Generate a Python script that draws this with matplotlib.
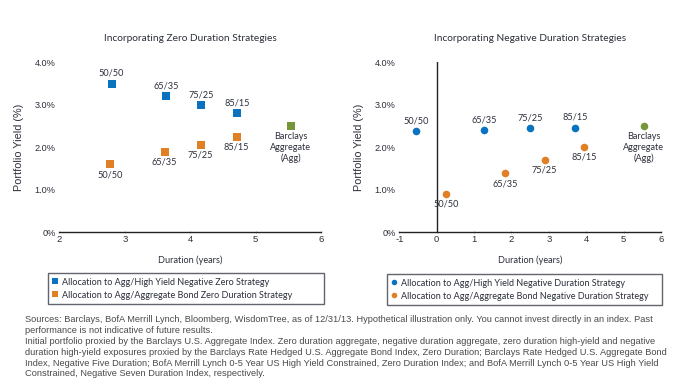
import matplotlib
matplotlib.use("Agg")
import matplotlib.pyplot as plt
from matplotlib.lines import Line2D

# ---- data ----
labels = ["50/50", "65/35", "75/25", "85/15"]
zero_hy_dur = [2.80, 3.63, 4.17, 4.72]
zero_hy_yld = [3.50, 3.21, 3.00, 2.81]
zero_agg_dur = [2.77, 3.61, 4.16, 4.71]
zero_agg_yld = [1.60, 1.89, 2.05, 2.24]
neg_hy_dur = [-0.54, 1.27, 2.49, 3.71]
neg_hy_yld = [2.37, 2.41, 2.44, 2.46]
neg_agg_dur = [0.25, 1.83, 2.89, 3.95]
neg_agg_yld = [0.90, 1.38, 1.70, 2.01]
agg_dur = 5.54
agg_yld = 2.50
agg_label = "Barclays\nAggregate\n(Agg)"
yticks = [0, 1, 2, 3, 4]
ytick_labels = ["0%", "1.0%", "2.0%", "3.0%", "4.0%"]
titles = ["Incorporating Zero Duration Strategies", "Incorporating Negative Duration Strategies"]
legend_left = ["Allocation to Agg/High Yield Negative Zero Strategy",
               "Allocation to Agg/Aggregate Bond Zero Duration Strategy"]
legend_right = ["Allocation to Agg/High Yield Negative Duration Strategy",
                "Allocation to Agg/Aggregate Bond Negative Duration Strategy"]
source_lines = [
    "Sources: Barclays, BofA Merrill Lynch, Bloomberg, WisdomTree, as of 12/31/13. Hypothetical illustration only. You cannot invest directly in an index. Past",
    "performance is not indicative of future results.",
    "Initial portfolio proxied by the Barclays U.S. Aggregate Index. Zero duration aggregate, negative duration aggregate, zero duration high-yield and negative",
    "duration high-yield exposures proxied by the Barclays Rate Hedged U.S. Aggregate Bond Index, Zero Duration; Barclays Rate Hedged U.S. Aggregate Bond",
    "Index, Negative Five Duration; BofA Merrill Lynch 0-5 Year US High Yield Constrained, Zero Duration Index; and BofA Merrill Lynch 0-5 Year US High Yield",
    "Constrained, Negative Seven Duration Index, respectively.",
]

BLUE = "#0A72BF"
ORANGE = "#E07F24"
GREEN = "#76963A"
TXT = "#2B2F3A"
TFONT = "Lato"
AFONT = "Liberation Sans"

W, H = 679, 388
fig = plt.figure(figsize=(W / 100, H / 100), dpi=100)

def fx(px):
    return px / W

def fy(py):
    return 1 - py / H

ax1 = fig.add_axes([fx(59.3), fy(232), fx(321 - 59.3), (232 - 62.3) / H])
ax2 = fig.add_axes([fx(399.3), fy(232), fx(661 - 399.3), (232 - 62.3) / H])

def style(ax, xlim, xticks, title):
    ax.set_xlim(*xlim)
    ax.set_ylim(0, 4)
    ax.set_xticks(xticks)
    ax.set_xticklabels([str(t) for t in xticks], fontsize=6.8, fontfamily=AFONT, color=TXT)
    ax.set_yticks(yticks)
    ax.set_yticklabels(ytick_labels, fontsize=6.6, fontfamily=AFONT, color=TXT)
    for s in ["top", "right", "left"]:
        ax.spines[s].set_visible(False)
    ax.spines["bottom"].set_color("#222222")
    ax.spines["bottom"].set_linewidth(1.0)
    ax.tick_params(axis="x", length=2, width=0.6, color="#999999", direction="inout", pad=1.5)
    ax.tick_params(axis="y", length=0, pad=2.5)
    ax.set_title(title, fontsize=7.3, fontfamily=TFONT, color=TXT, pad=15)
    ax.set_xlabel("Duration (years)", fontsize=6.6, fontfamily=TFONT, color=TXT, labelpad=8)
    ax.set_ylabel("Portfolio Yield (%)", fontsize=7.8, fontfamily=AFONT, color=TXT, labelpad=8)

style(ax1, (2, 6), [2, 3, 4, 5, 6], titles[0])
style(ax2, (-1, 6), [-1, 0, 1, 2, 3, 4, 5, 6], titles[1])
ax2.axvline(0, ymin=0, ymax=1, color="#222222", lw=1.0)

def annot(ax, xs, ys, above):
    for lab, x, y in zip(labels, xs, ys):
        ax.annotate(lab, (x, y), xytext=(0, 7.3 if above else -7.5), textcoords="offset points",
                    ha="center", va="center", fontsize=6.6, fontfamily=TFONT, color=TXT)

# left chart
ax1.scatter(zero_hy_dur, zero_hy_yld, marker="s", s=28, color=BLUE, linewidths=0, zorder=3)
ax1.scatter(zero_agg_dur, zero_agg_yld, marker="s", s=28, color=ORANGE, linewidths=0, zorder=3)
ax1.scatter([agg_dur], [agg_yld], marker="s", s=28, color=GREEN, linewidths=0, zorder=3)
annot(ax1, zero_hy_dur, zero_hy_yld, True)
annot(ax1, zero_agg_dur, zero_agg_yld, False)
ax1.annotate(agg_label, (agg_dur, agg_yld), xytext=(0, -4.5), textcoords="offset points",
             ha="center", va="top", fontsize=6.6, fontfamily=TFONT, color=TXT, linespacing=1.25)

# right chart
ax2.scatter(neg_hy_dur, neg_hy_yld, marker="o", s=30, color=BLUE, linewidths=0, zorder=3)
ax2.scatter(neg_agg_dur, neg_agg_yld, marker="o", s=30, color=ORANGE, linewidths=0, zorder=3)
ax2.scatter([agg_dur], [agg_yld], marker="o", s=30, color=GREEN, linewidths=0, zorder=3)
annot(ax2, neg_hy_dur, neg_hy_yld, True)
annot(ax2, neg_agg_dur, neg_agg_yld, False)
ax2.annotate(agg_label, (agg_dur, agg_yld), xytext=(0, -4.5), textcoords="offset points",
             ha="center", va="top", fontsize=6.6, fontfamily=TFONT, color=TXT, linespacing=1.25)

def make_legend(marker, texts, x0, x1, y0, y1):
    handles = [Line2D([], [], marker=marker, ls="none", color=c, markersize=4.0, markeredgewidth=0)
               for c in (BLUE, ORANGE)]
    leg = fig.legend(handles, texts, loc="upper left",
                     bbox_to_anchor=(fx(x0), fy(y1), fx(x1 - x0), (y1 - y0) / H),
                     bbox_transform=fig.transFigure, mode="expand", borderaxespad=0,
                     frameon=True, fancybox=False, prop={"family": TFONT, "size": 6.5},
                     handlelength=0.6, handletextpad=0.4, labelspacing=0.45,
                     borderpad=0.5)
    fr = leg.get_frame()
    fr.set_edgecolor("#3A3F48")
    fr.set_linewidth(1.0)
    for t in leg.get_texts():
        t.set_color(TXT)
    return leg

make_legend("s", legend_left, 48, 324, 273, 306)
make_legend("o", legend_right, 387, 662, 274, 305)

ys = [320, 330.7, 341.5, 352.3, 363, 373.8]
for line, y in zip(source_lines, ys):
    fig.text(fx(25), fy(y), line, ha="left", va="center", fontsize=6.7,
             fontfamily=AFONT, color="#4A4A4A")

fig.savefig("out.png", dpi=100)
